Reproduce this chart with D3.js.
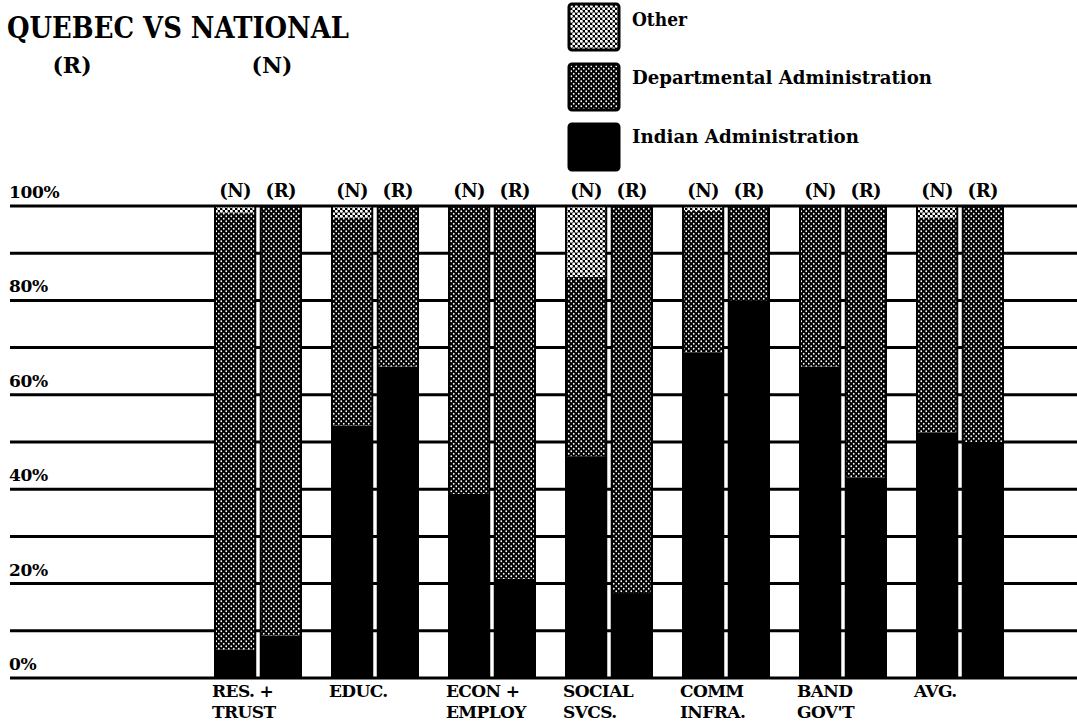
<!DOCTYPE html>
<html>
<head>
<meta charset="utf-8">
<script src="https://cdn.jsdelivr.net/npm/d3@7"></script>
<style>
  html, body { margin: 0; padding: 0; background: #fff; }
  svg { display: block; }
  .serif { font-family: "DejaVu Serif", "Liberation Serif", serif; }
</style>
</head>
<body>
<div id="chart"></div>
<script>
// ---------- data ----------
const categories = ["RES. + TRUST", "EDUC.", "ECON + EMPLOY", "SOCIAL SVCS.", "COMM INFRA.", "BAND GOV'T", "AVG."];
const categoryLines = [["RES. +", "TRUST"], ["EDUC."], ["ECON +", "EMPLOY"], ["SOCIAL", "SVCS."], ["COMM", "INFRA."], ["BAND", "GOV'T"], ["AVG."]];
const sides = ["N", "R"];
const sideLabels = ["(N)", "(R)"];

// National (N)
const indianN = [6, 53.5, 39, 47, 69, 66, 52];
const deptN   = [92.5, 44, 61, 38, 30, 34, 45.5];
const otherN  = [1.5, 2.5, 0, 15, 1, 0, 2.5];
// Region / Quebec (R)
const indianR = [9, 66, 21, 18, 80, 42.5, 50];
const deptR   = [91, 34, 79, 82, 20, 57.5, 50];
const otherR  = [0, 0, 0, 0, 0, 0, 0];

const seriesKeys = ["indian", "dept", "other"];
const legendLabels = ["Other", "Departmental Administration", "Indian Administration"];
const legendKeys = ["other", "dept", "indian"];

const gridValues = [0, 10, 20, 30, 40, 50, 60, 70, 80, 90, 100];
const tickValues = [0, 20, 40, 60, 80, 100];
const tickLabels = ["0%", "20%", "40%", "60%", "80%", "100%"];

const titleText = "QUEBEC VS NATIONAL";
const subLabels = ["(R)", "(N)"];

// ---------- layout ----------
const W = 1077, H = 728;
const svg = d3.select("#chart").append("svg").attr("width", W).attr("height", H);

const defs = svg.append("defs");
// dark dotted pattern (Departmental)
const pd = defs.append("pattern").attr("id", "patDept").attr("patternUnits", "userSpaceOnUse")
  .attr("width", 5).attr("height", 5);
pd.append("rect").attr("width", 5).attr("height", 5).attr("fill", "#000");
pd.append("circle").attr("cx", 1.25).attr("cy", 1.25).attr("r", 0.9).attr("fill", "#fff");
pd.append("circle").attr("cx", 3.75).attr("cy", 3.75).attr("r", 0.9).attr("fill", "#fff");
// light dotted pattern (Other)
const po = defs.append("pattern").attr("id", "patOther").attr("patternUnits", "userSpaceOnUse")
  .attr("width", 5).attr("height", 5);
po.append("rect").attr("width", 5).attr("height", 5).attr("fill", "#000");
po.append("circle").attr("cx", 1.25).attr("cy", 1.25).attr("r", 1.55).attr("fill", "#fff");
po.append("circle").attr("cx", 3.75).attr("cy", 3.75).attr("r", 1.55).attr("fill", "#fff");

const fills = { indian: "#000", dept: "url(#patDept)", other: "url(#patOther)" };

const y = d3.scaleLinear().domain([0, 100]).range([678, 206]);
const x = d3.scaleBand().domain(categories).range([215, 1003]).paddingInner(0.265).paddingOuter(0);
const xs = d3.scaleBand().domain(sides).range([0, x.bandwidth()]).paddingInner(0.12);

// ---------- title ----------
svg.append("text").attr("class", "serif").attr("x", 7).attr("y", 38)
  .attr("font-size", 29).attr("font-weight", "bold").attr("fill", "#000")
  .attr("textLength", 342).attr("lengthAdjust", "spacingAndGlyphs")
  .text(titleText);
const subX = [72, 272];
svg.selectAll("text.sub").data(subLabels).enter().append("text")
  .attr("class", "serif sub").attr("x", (d, i) => subX[i]).attr("y", 73)
  .attr("text-anchor", "middle").attr("font-size", 22).attr("font-weight", "bold")
  .text(d => d);

// ---------- legend ----------
const legY = [3, 63, 123];
const legBase = [26, 84, 143];
const legWidth = [55, 300, 227];
const lg = svg.append("g");
legendKeys.forEach((k, i) => {
  lg.append("rect").attr("x", 569).attr("y", legY[i] + 1).attr("width", 50).attr("height", 46)
    .attr("rx", 3).attr("fill", fills[k]).attr("stroke", "#000").attr("stroke-width", 3);
  lg.append("text").attr("class", "serif").attr("x", 632).attr("y", legBase[i])
    .attr("font-size", 19).attr("font-weight", "bold")
    .attr("textLength", legWidth[i]).attr("lengthAdjust", "spacingAndGlyphs")
    .text(legendLabels[i]);
});

// ---------- grid ----------
svg.append("g").selectAll("line").data(gridValues).enter().append("line")
  .attr("x1", 10).attr("x2", W).attr("y1", d => y(d)).attr("y2", d => y(d))
  .attr("stroke", "#000").attr("stroke-width", 3);

svg.append("g").selectAll("text").data(tickValues).enter().append("text")
  .attr("class", "serif").attr("x", 9).attr("y", d => y(d) - 8)
  .attr("font-size", 17).attr("font-weight", "bold").attr("letter-spacing", -0.3)
  .text((d, i) => tickLabels[i]);

// ---------- bars ----------
const rows = [];
categories.forEach((c, i) => {
  rows.push({ cat: c, side: "N", indian: indianN[i], dept: deptN[i], other: otherN[i] });
  rows.push({ cat: c, side: "R", indian: indianR[i], dept: deptR[i], other: otherR[i] });
});
const stacked = d3.stack().keys(seriesKeys)(rows);

const gBars = svg.append("g");
stacked.forEach(layer => {
  gBars.append("g").attr("fill", fills[layer.key]).selectAll("rect").data(layer).enter().append("rect")
    .attr("x", d => x(d.data.cat) + xs(d.data.side))
    .attr("width", xs.bandwidth())
    .attr("y", d => y(d[1]))
    .attr("height", d => Math.max(0, y(d[0]) - y(d[1])));
});
// outlines
gBars.append("g").selectAll("rect").data(rows).enter().append("rect")
  .attr("x", d => x(d.cat) + xs(d.side))
  .attr("width", xs.bandwidth())
  .attr("y", d => y(d.indian + d.dept + d.other))
  .attr("height", d => y(0) - y(d.indian + d.dept + d.other))
  .attr("fill", "none").attr("stroke", "#000").attr("stroke-width", 2);

// side labels above bars
svg.append("g").selectAll("text").data(rows).enter().append("text")
  .attr("class", "serif")
  .attr("x", d => x(d.cat) + xs(d.side) + xs.bandwidth() / 2)
  .attr("y", 197).attr("text-anchor", "middle")
  .attr("font-size", 18).attr("font-weight", "bold").attr("letter-spacing", -0.5)
  .text(d => sideLabels[sides.indexOf(d.side)]);

// category labels
const gc = svg.append("g");
categories.forEach((c, i) => {
  categoryLines[i].forEach((ln, j) => {
    gc.append("text").attr("class", "serif")
      .attr("x", x(c) - 3).attr("y", 697 + j * 21)
      .attr("font-size", 17).attr("font-weight", "bold")
      .attr("letter-spacing", -0.6)
      .text(ln);
  });
});
</script>
</body>
</html>
